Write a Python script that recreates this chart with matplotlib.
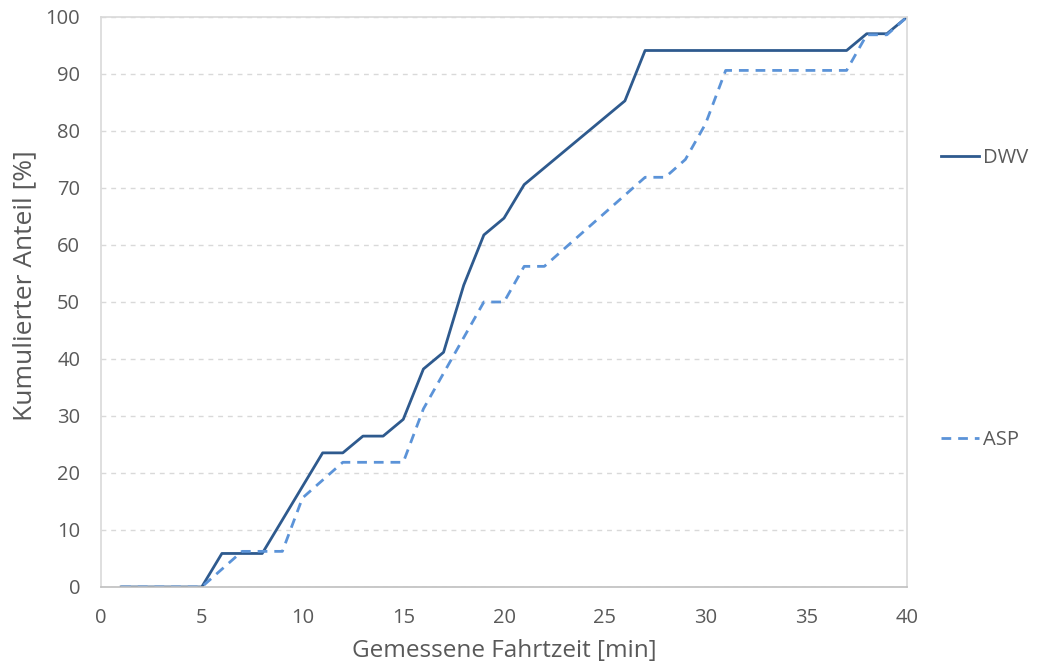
import matplotlib.pyplot as plt

# Gemessene Fahrtzeit [min]
minutes = list(range(1, 41))

# kumulierter Anteil [%]
dwv = [0, 0, 0, 0, 0, 5.88, 5.88, 5.88, 11.76, 17.65,
       23.53, 23.53, 26.47, 26.47, 29.41, 38.24, 41.18, 52.94, 61.76, 64.71,
       70.59, 73.53, 76.47, 79.41, 82.35, 85.29, 94.12, 94.12, 94.12, 94.12,
       94.12, 94.12, 94.12, 94.12, 94.12, 94.12, 94.12, 97.06, 97.06, 100]
asp = [0, 0, 0, 0, 0, 3.125, 6.25, 6.25, 6.25, 15.625,
       18.75, 21.875, 21.875, 21.875, 21.875, 31.25, 37.5, 43.75, 50, 50,
       56.25, 56.25, 59.375, 62.5, 65.625, 68.75, 71.875, 71.875, 75, 81.25,
       90.625, 90.625, 90.625, 90.625, 90.625, 90.625, 90.625, 96.875, 96.875, 100]

x_ticks = list(range(0, 41, 5))
y_ticks = list(range(0, 101, 10))

plt.rcParams['font.family'] = ['Open Sans', 'DejaVu Sans']
text_col = "#595959"
grid_col = "#D9D9D9"

fig = plt.figure(figsize=(10.39, 6.71), dpi=100)
ax = fig.add_axes([0.0972, 0.1252, 0.7758, 0.8495])

l1, = ax.plot(minutes, dwv, color="#2E5A8E", linewidth=2.0, label="DWV")
l2, = ax.plot(minutes, asp, color="#5B93D8", linewidth=2.0,
              linestyle=(0, (3.5, 2.5)), label="ASP")

ax.set_xlim(0, 40)
ax.set_ylim(0, 100)
ax.set_xticks(x_ticks)
ax.set_yticks(y_ticks)
ax.tick_params(length=0, labelsize=14.5, colors=text_col)
ax.tick_params(axis='y', pad=15)
ax.tick_params(axis='x', pad=15)

# dashed horizontal gridlines
ax.yaxis.grid(True, color=grid_col, linestyle=(0, (3.5, 3.5)), linewidth=1.0)
ax.set_axisbelow(True)
for s in ax.spines.values():
    s.set_color(grid_col)
    s.set_linewidth(1.2)
ax.spines['bottom'].set_color("#BFBFBF")

ax.set_xlabel("Gemessene Fahrtzeit [min]", fontsize=17.5, color=text_col)
ax.set_ylabel("Kumulierter Anteil [%]", fontsize=19, color=text_col)
ax.xaxis.set_label_coords(0.5, -0.092)
ax.yaxis.set_label_coords(-0.079, 0.528)

# legend entries on the right, far apart as in the original
leg_kw = dict(loc='center left', frameon=False, fontsize=14.5, handlelength=1.85,
              handletextpad=0.2, labelcolor=text_col)
leg1 = ax.legend(handles=[l1], bbox_to_anchor=(1.02, 0.753), **leg_kw)
ax.add_artist(leg1)
ax.legend(handles=[l2], bbox_to_anchor=(1.02, 0.257), **leg_kw)

fig.savefig("out.png", dpi=100)
